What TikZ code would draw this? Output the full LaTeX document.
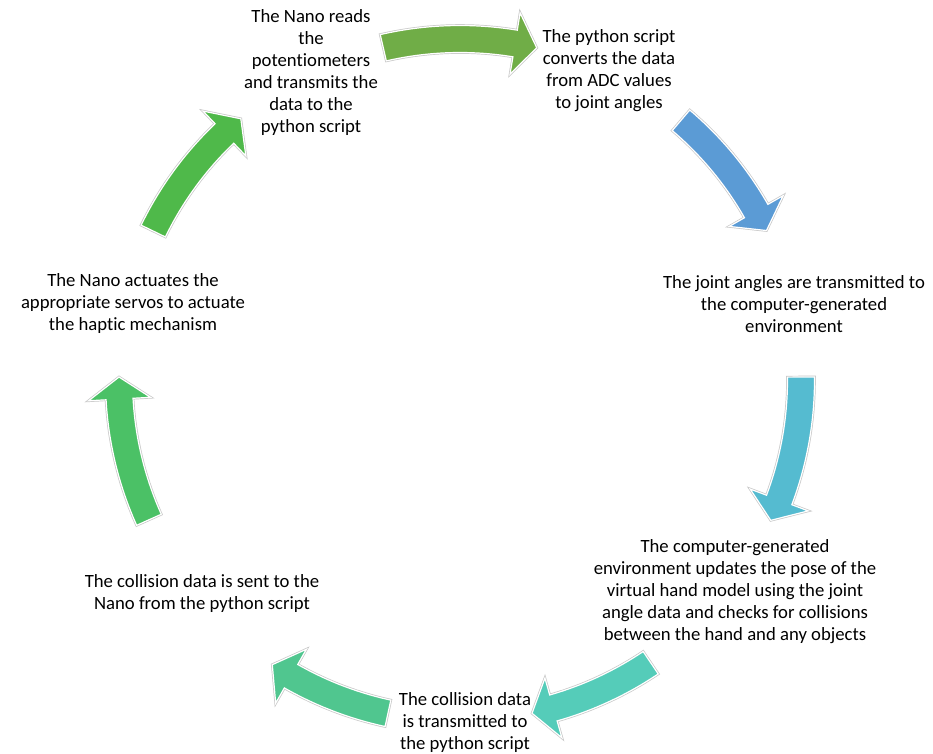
\documentclass[tikz,border=0pt]{standalone}
\usepackage{fontspec}
\setmainfont[Ligatures=NoCommon]{Carlito}
\usepackage{xcolor}
\definecolor{arrowA}{HTML}{70AD47}
\definecolor{arrowB}{HTML}{5B9BD5}
\definecolor{arrowC}{HTML}{55BBD0}
\definecolor{arrowD}{HTML}{55CCB9}
\definecolor{arrowE}{HTML}{50C68F}
\definecolor{arrowF}{HTML}{4BC166}
\definecolor{arrowG}{HTML}{4FB94A}
\tikzset{
  arrowshape/.style={fill=#1, draw=white, line width=1.2pt, line join=miter,
    preaction={draw=black!22, line width=2.6pt}},
  steptext/.style={align=center, inner sep=0pt,
    font=\fontsize{18.7}{22}\selectfont}
}
\newcommand{\cyclearrow}[3]{%
  \fill[arrowshape=#3] (#1:354.5) arc[start angle=#1, end angle={#2+3.7}, radius=354.5]
    -- ({#2+3.7}:372) -- (#2:341) -- ({#2+3.7}:310) -- ({#2+3.7}:327.5)
    arc[start angle={#2+3.7}, end angle=#1, radius=327.5] -- cycle;}

\begin{document}
\begin{tikzpicture}[x=1pt,y=1pt]
\useasboundingbox (-460,-373) rectangle (473,380);
\cyclearrow{103}{77}{arrowA}
\cyclearrow{49.6}{26}{arrowB}
\cyclearrow{0.5}{-24.3}{arrowC}
\cyclearrow{-56}{-77.8}{arrowD}
\cyclearrow{-102.2}{-123.4}{arrowE}
\cyclearrow{-155.8}{-180.5}{arrowF}
\cyclearrow{154.1}{130}{arrowG}
\node[steptext] (reads) at (-149,307) {The Nano reads\\the\\potentiometers\\and transmits the\\data to the\\python script};
\node[steptext] (converts) at (149,309) {The python script\\converts the data\\from ADC values\\to joint angles};
\node[steptext] (angles) at (334,76) {The joint angles are transmitted to\\the computer-generated\\environment};
\node[steptext] (updates) at (275,-212) {The computer-generated\\environment updates the pose of the\\virtual hand model using the joint\\angle data and checks for collisions\\between the hand and any objects};
\node[steptext] (collision) at (5,-343) {The collision data\\is transmitted to\\the python script};
\node[steptext] (sent) at (-258,-214) {The collision data is sent to the\\Nano from the python script};
\node[steptext] (actuates) at (-327,76) {The Nano actuates the\\appropriate servos to actuate\\the haptic mechanism};
\end{tikzpicture}
\end{document}
